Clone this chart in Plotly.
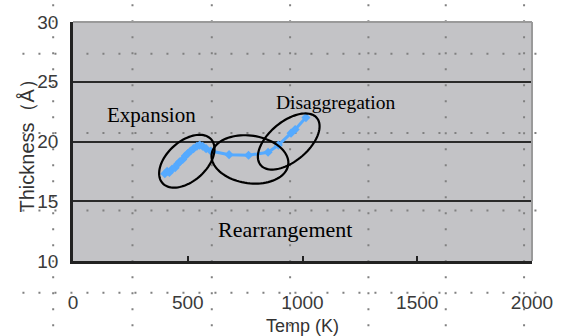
import numpy as np
import plotly.graph_objects as go

# ---- data ----
temp_k = [400, 410, 420, 432, 445, 455, 465, 478, 490, 500, 512, 525, 540, 552,
          565, 580, 600, 680, 765, 850, 895, 950, 968, 1015]
thickness = [17.3, 17.5, 17.4, 17.7, 17.8, 18.1, 18.3, 18.5, 18.8, 19.0, 19.2,
             19.4, 19.6, 19.7, 19.6, 19.4, 19.2, 18.9, 18.85, 19.1, 19.7, 20.7,
             21.0, 22.0]
x_ticks = [0, 500, 1000, 1500, 2000]
y_ticks = [10, 15, 20, 25, 30]

regions = ["Expansion", "Disaggregation", "Rearrangement"]
region_label_x = [340, 1142, 925]
region_label_y = [22.25, 23.3, 12.6]
region_label_size = [21, 19.5, 22]

# ellipses: centre (data), semi-axes (px), tilt (deg)
ell_cx = [496, 771, 940]
ell_cy = [18.35, 18.5, 20.0]
ell_a = [33, 39, 37]
ell_b = [20, 24, 20]
ell_deg = [42, -8, 40]

# ---- geometry ----
W, H = 565, 336
L, R, T, B = 73, 29, 20, 75
pw, ph = W - L - R, H - T - B
xr, yr = [0, 2000], [10, 30]
sx = pw / (xr[1] - xr[0])
sy = ph / (yr[1] - yr[0])

fig = go.Figure()

fig.add_trace(go.Scatter(
    x=temp_k, y=thickness, mode="lines+markers",
    line=dict(color="#55aaff", width=3),
    marker=dict(symbol="diamond", size=7, color="#55aaff"),
    showlegend=False, hoverinfo="skip"))

shapes = []


def px_to_paper_x(p):
    return (p - L) / pw


def px_to_paper_y(p):
    return (T + ph - p) / ph


dot = dict(color="#808080", width=2, dash="2px,14px")
for vx in [53, 133, 213, 292, 371, 449, 528]:
    shapes.append(dict(type="line", xref="paper", yref="paper",
                       x0=px_to_paper_x(vx), x1=px_to_paper_x(vx),
                       y0=px_to_paper_y(2), y1=px_to_paper_y(336),
                       line=dot, layer="below"))
for hy in [52, 132, 210, 293]:
    shapes.append(dict(type="line", xref="paper", yref="paper",
                       x0=px_to_paper_x(22), x1=px_to_paper_x(548),
                       y0=px_to_paper_y(hy), y1=px_to_paper_y(hy),
                       line=dot, layer="below"))

t = np.linspace(0, 2 * np.pi, 90)
for cx, cy, a, b, deg in zip(ell_cx, ell_cy, ell_a, ell_b, ell_deg):
    th = np.radians(deg)
    dx = a * np.cos(t) * np.cos(th) - b * np.sin(t) * np.sin(th)
    dy = a * np.cos(t) * np.sin(th) + b * np.sin(t) * np.cos(th)
    xs = cx + dx / sx
    ys = cy + dy / sy
    path = "M " + " L ".join(f"{x:.2f},{y:.3f}" for x, y in zip(xs, ys)) + " Z"
    shapes.append(dict(type="path", xref="x", yref="y", path=path,
                       line=dict(color="black", width=2.2), layer="above"))

# light frame on top/right
shapes.append(dict(type="line", xref="paper", yref="paper", x0=0, x1=1, y0=1, y1=1,
                   line=dict(color="#9a9a9a", width=2), layer="above"))
shapes.append(dict(type="line", xref="paper", yref="paper", x0=1, x1=1, y0=0, y1=1,
                   line=dict(color="#9a9a9a", width=2), layer="above"))

annotations = []
for name, lx, ly, fs in zip(regions, region_label_x, region_label_y, region_label_size):
    annotations.append(dict(x=lx, y=ly, xref="x", yref="y", text=name, showarrow=False,
                            font=dict(family="Liberation Serif, Times New Roman, serif",
                                      size=fs, color="black")))

annotations.append(dict(x=0, y=0.5, xref="paper", yref="paper", xshift=-47,
                        text="Thickness（Å）", textangle=-90, showarrow=False,
                        xanchor="center", yanchor="middle",
                        font=dict(family="Liberation Sans, Arial, sans-serif",
                                  size=20, color="#333333")))
annotations.append(dict(x=0.5, y=0, xref="paper", yref="paper", yshift=-65,
                        text="Temp (K)", showarrow=False,
                        xanchor="center", yanchor="middle",
                        font=dict(family="Liberation Sans, Arial, sans-serif",
                                  size=18, color="#333333")))

tickfont = dict(family="Liberation Sans, Arial, sans-serif", size=19, color="#3a3a3a")

fig.update_layout(
    width=W, height=H,
    margin=dict(l=L, r=R, t=T, b=B, pad=0),
    paper_bgcolor="white", plot_bgcolor="#c3c3c6",
    shapes=shapes, annotations=annotations,
    xaxis=dict(range=xr, tickvals=x_ticks, ticktext=[str(v) for v in x_ticks],
               showgrid=False, zeroline=False, showline=True, linecolor="#222222",
               linewidth=2.5, ticks="inside", ticklen=5, tickwidth=2, tickcolor="#222222",
               tickfont=tickfont, ticklabelstandoff=22, fixedrange=True),
    yaxis=dict(range=yr, tickvals=y_ticks, ticktext=[str(v) for v in y_ticks],
               showgrid=True, gridcolor="#2a2a2a", gridwidth=2, zeroline=False,
               showline=True, linecolor="#222222", linewidth=2.5, ticks="",
               tickfont=tickfont, ticklabelstandoff=8, fixedrange=True),
)

fig.write_html("out.html", config={"displayModeBar": False},
               post_script="document.body.style.margin='0';document.body.style.overflow='hidden';")
